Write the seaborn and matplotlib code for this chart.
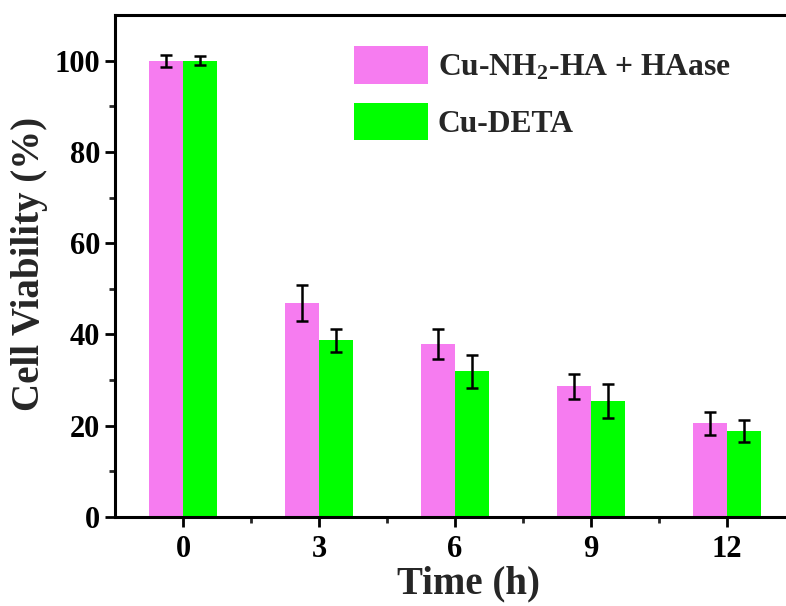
import numpy as np
import pandas as pd
import matplotlib
matplotlib.use("Agg")
import matplotlib.pyplot as plt
import seaborn as sns
from matplotlib.ticker import FixedLocator

times = ["0", "3", "6", "9", "12"]
groups = ["Cu-NH$_2$-HA + HAase", "Cu-DETA"]
ha_mean = [100.0, 46.9, 37.9, 28.6, 20.5]
ha_err = [1.3, 4.0, 3.2, 2.7, 2.6]
deta_mean = [100.0, 38.7, 31.9, 25.5, 18.8]
deta_err = [1.0, 2.5, 3.7, 3.7, 2.4]
colors = ["#F67CF0", "#00FF00"]

df = pd.DataFrame({
    "Time": times * 2,
    "Group": [groups[0]] * len(times) + [groups[1]] * len(times),
    "Value": ha_mean + deta_mean,
})
errs = [ha_err, deta_err]

sns.set_style("ticks")
plt.rcParams["font.family"] = ["Liberation Serif", "DejaVu Serif"]
plt.rcParams["font.weight"] = "bold"
plt.rcParams["mathtext.fontset"] = "custom"
plt.rcParams["mathtext.rm"] = "Liberation Serif:bold"
plt.rcParams["mathtext.bf"] = "Liberation Serif:bold"
plt.rcParams["mathtext.it"] = "Liberation Serif:bold"
plt.rcParams["mathtext.default"] = "bf"

W, H = 786, 606
fig = plt.figure(figsize=(W / 100, H / 100), dpi=100)
ax = fig.add_axes([115 / W, (H - 517) / H, 680 / W, 502 / H])

sns.barplot(data=df, x="Time", y="Value", hue="Group", order=times,
            hue_order=groups, palette=colors, width=0.5, errorbar=None,
            saturation=1, linewidth=0, ax=ax, legend=True)

for cont, e in zip(ax.containers, errs):
    xs = [b.get_x() + b.get_width() / 2 for b in cont]
    ys = [b.get_height() for b in cont]
    ax.errorbar(xs, ys, yerr=e, fmt="none", ecolor="black", elinewidth=1.8,
                capsize=4.5, capthick=1.8, zorder=5)

ax.set_xlim(-0.5, 4.5)
ax.set_ylim(0, 110)
ax.yaxis.set_major_locator(FixedLocator([0, 20, 40, 60, 80, 100]))
ax.yaxis.set_minor_locator(FixedLocator([10, 30, 50, 70, 90]))
ax.xaxis.set_minor_locator(FixedLocator([0.5, 1.5, 2.5, 3.5]))

for side in ["left", "bottom", "top", "right"]:
    ax.spines[side].set_linewidth(2.2)
    ax.spines[side].set_color("black")
    ax.spines[side].set_visible(True)

ax.tick_params(axis="both", which="major", direction="out", length=7, width=2,
               labelsize=22, colors="black", top=False, right=False)
ax.tick_params(axis="x", which="major", pad=6)
ax.tick_params(axis="both", which="minor", direction="out", length=4, width=2,
               top=False, right=False)
for lab in ax.get_xticklabels() + ax.get_yticklabels():
    lab.set_fontweight("bold")

ax.set_xlabel("Time (h)", fontsize=28, fontweight="bold")
ax.set_ylabel("Cell Viability (%)", fontsize=28, fontweight="bold")
ax.xaxis.set_label_coords((468 - 115) / 680, -0.096)
ax.yaxis.set_label_coords((48 - 115) / 680, 0.505)

handles, labels = ax.get_legend_handles_labels()
ax.legend(handles, labels, loc="upper left",
          bbox_to_anchor=(354 / W, (H - 46) / H), bbox_transform=fig.transFigure,
          frameon=False, prop={"family": "Liberation Serif", "weight": "bold", "size": 22.8},
          handlelength=2.35, handleheight=1.45, handletextpad=0.3,
          labelspacing=0.6, borderpad=0, borderaxespad=0)

fig.savefig("out.png", dpi=100)
